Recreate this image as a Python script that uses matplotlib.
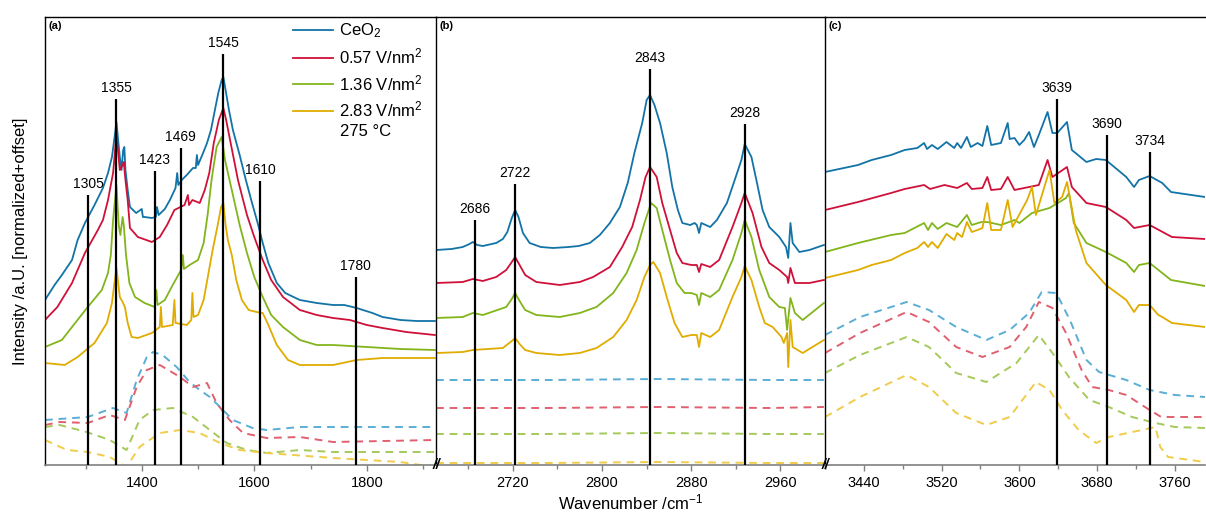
import numpy as np
import matplotlib
matplotlib.use('Agg')
import matplotlib.pyplot as plt
from matplotlib.ticker import MultipleLocator

plt.rcParams['font.family'] = ['Liberation Sans', 'DejaVu Sans']
plt.rcParams['mathtext.fontset'] = 'custom'
plt.rcParams['mathtext.rm'] = 'Liberation Sans'
plt.rcParams['mathtext.it'] = 'Liberation Sans:italic'
plt.rcParams['mathtext.bf'] = 'Liberation Sans:bold'

# ---- series names / colours ----
labels = ['CeO$_2$', '0.57 V/nm$^2$', '1.36 V/nm$^2$', '2.83 V/nm$^2$']
solid_colors = ['#1273a6', '#cf1139', '#82b51c', '#e0ac00']
dash_colors = ['#5aaed6', '#e0606f', '#a5c95a', '#f0cc4a']
temperature = '275 °C'

# ---- panel (a): 1228-1923 cm-1 ----
a_wn_blue = [1228, 1245, 1258, 1276, 1286, 1299, 1316, 1331, 1340, 1347, 1351, 1355, 1358, 1361, 1364, 1367,
             1369, 1371, 1375, 1379, 1390, 1400, 1402, 1405, 1418, 1425, 1427, 1430, 1441, 1450, 1460, 1463,
             1465, 1471, 1480, 1491, 1496, 1498, 1500, 1509, 1516, 1523, 1530, 1536, 1542, 1545, 1549, 1555,
             1562, 1574, 1585, 1596, 1606, 1615, 1625, 1640, 1655, 1681, 1711, 1740, 1760, 1782, 1810, 1828,
             1860, 1889, 1921]
a_blue = [165, 180, 190, 205, 225, 242, 260, 277, 292, 308, 325, 343, 325, 308, 295, 315,
          318, 295, 275, 258, 252, 256, 248, 248, 247, 248, 258, 250, 256, 265, 277, 292,
          280, 285, 290, 297, 297, 310, 300, 312, 322, 335, 355, 372, 385, 388, 375, 355,
          335, 310, 285, 262, 242, 222, 202, 182, 172, 165, 162, 160, 160, 157, 152, 148,
          145, 144, 144]
a_wn_red = [1228, 1250, 1276, 1299, 1322, 1331, 1340, 1349, 1355, 1361, 1366, 1368, 1371, 1375, 1379, 1393,
            1418, 1432, 1445, 1458, 1476, 1482, 1484, 1490, 1503, 1512, 1520, 1528, 1537, 1545, 1550, 1558,
            1571, 1587, 1600, 1615, 1630, 1651, 1681, 1711, 1740, 1770, 1800, 1828, 1870, 1921]
a_red = [145, 158, 182, 212, 235, 245, 265, 292, 330, 295, 300, 303, 285, 265, 237, 228,
         223, 228, 240, 255, 260, 270, 260, 265, 262, 275, 292, 322, 345, 357, 345, 322,
         285, 250, 228, 205, 185, 168, 155, 150, 147, 145, 140, 137, 133, 130]
a_wn_green = [1228, 1258, 1276, 1304, 1329, 1340, 1345, 1349, 1355, 1359, 1362, 1366, 1368, 1372, 1378, 1388,
              1405, 1423, 1426, 1428, 1441, 1455, 1470, 1473, 1475, 1485, 1500, 1510, 1517, 1524, 1533, 1542,
              1548, 1560, 1574, 1587, 1600, 1615, 1630, 1651, 1681, 1711, 1740, 1800, 1860, 1921]
a_green = [118, 125, 138, 158, 175, 192, 210, 245, 280, 240, 230, 248, 240, 210, 182, 168,
           162, 158, 175, 160, 165, 180, 195, 210, 196, 200, 205, 222, 250, 285, 318, 328,
           305, 275, 240, 212, 188, 168, 150, 138, 125, 120, 120, 118, 116, 115]
a_wn_yellow = [1228, 1245, 1263, 1286, 1316, 1338, 1347, 1351, 1355, 1361, 1366, 1370, 1375, 1382, 1393, 1418,
               1432, 1434, 1436, 1455, 1458, 1460, 1480, 1488, 1490, 1492, 1500, 1510, 1518, 1526, 1535, 1541,
               1545, 1549, 1553, 1560, 1568, 1578, 1590, 1604, 1615, 1625, 1640, 1660, 1681, 1740, 1782, 1828,
               1921]
a_yellow = [102, 101, 100, 108, 122, 142, 162, 180, 197, 168, 163, 158, 142, 128, 127, 132,
            138, 158, 138, 140, 165, 142, 140, 145, 172, 148, 150, 165, 190, 215, 240, 258,
            262, 240, 225, 210, 185, 165, 155, 153, 152, 140, 120, 105, 100, 100, 105, 107,
            107]

a_dwn_blue = [1228, 1304, 1349, 1373, 1391, 1409, 1420, 1437, 1462, 1485, 1503, 1521, 1539, 1562, 1597, 1622, 1681, 1921]
a_dblue = [45, 48, 57, 52, 85, 108, 113, 110, 98, 83, 75, 68, 58, 45, 37, 35, 38, 38]
a_dwn_red = [1228, 1254, 1304, 1343, 1370, 1391, 1409, 1432, 1468, 1491, 1516, 1533, 1556, 1580, 1622, 1681, 1740, 1921]
a_dred = [40, 43, 42, 50, 45, 78, 95, 100, 88, 78, 82, 62, 45, 32, 27, 28, 23, 25]
a_dwn_green = [1228, 1254, 1302, 1343, 1373, 1396, 1420, 1455, 1491, 1521, 1551, 1587, 1622, 1681, 1740, 1921]
a_dgreen = [38, 40, 33, 25, 15, 45, 55, 57, 48, 35, 22, 15, 12, 15, 13, 13]
a_dwn_yellow = [1228, 1267, 1304, 1343, 1373, 1396, 1432, 1468, 1503, 1539, 1574, 1622, 1740, 1859, 1921]
a_dyellow = [25, 15, 13, 8, -2, 18, 32, 35, 32, 22, 15, 12, 7, 3, -2]

# ---- panel (b): 2651-3000 cm-1 ----
b_wn_blue = [2651, 2665, 2675, 2681, 2684, 2688, 2693, 2705, 2711, 2715, 2719, 2722, 2725, 2729, 2735, 2745,
             2756, 2770, 2779, 2789, 2798, 2807, 2816, 2823, 2829, 2836, 2840, 2843, 2847, 2852, 2858, 2863,
             2868, 2872, 2879, 2883, 2885, 2887, 2889, 2897, 2903, 2912, 2919, 2925, 2928, 2934, 2939, 2944,
             2950, 2959, 2965, 2967, 2969, 2971, 2977, 2986, 2999]
b_blue = [215, 216, 218, 221, 223, 220, 219, 222, 226, 233, 247, 255, 248, 232, 222, 218,
          217, 218, 219, 222, 230, 242, 258, 282, 312, 342, 365, 370, 360, 342, 312, 278,
          255, 242, 240, 242, 240, 232, 242, 238, 245, 262, 285, 305, 321, 308, 282, 255,
          238, 228, 218, 207, 242, 222, 213, 215, 220]
b_wn_red = [2651, 2675, 2684, 2693, 2705, 2714, 2719, 2722, 2726, 2731, 2741, 2762, 2780, 2792, 2807, 2818,
            2827, 2834, 2839, 2843, 2849, 2854, 2861, 2867, 2872, 2880, 2885, 2887, 2889, 2897, 2905, 2917,
            2925, 2928, 2935, 2943, 2950, 2959, 2966, 2967, 2969, 2973, 2986, 2999]
b_red = [182, 183, 186, 184, 188, 195, 203, 208, 200, 190, 183, 180, 183, 188, 198, 218,
         238, 265, 288, 298, 288, 262, 235, 212, 202, 200, 200, 193, 201, 198, 205, 238,
         262, 272, 252, 218, 202, 195, 188, 182, 197, 182, 182, 185]
b_wn_green = [2651, 2675, 2684, 2693, 2714, 2719, 2722, 2726, 2731, 2741, 2762, 2780, 2795, 2810, 2822, 2831,
              2838, 2844, 2849, 2854, 2861, 2867, 2874, 2880, 2885, 2887, 2889, 2897, 2905, 2917, 2925, 2928,
              2934, 2941, 2950, 2959, 2964, 2966, 2969, 2973, 2980, 2999]
b_green = [147, 148, 152, 150, 158, 166, 172, 164, 155, 150, 148, 152, 158, 172, 192, 215,
           242, 262, 257, 235, 205, 182, 172, 172, 170, 160, 172, 168, 175, 205, 232, 245,
           228, 195, 168, 158, 157, 135, 167, 152, 145, 162]
b_wn_yellow = [2651, 2675, 2684, 2711, 2719, 2722, 2726, 2731, 2741, 2762, 2780, 2795, 2810, 2822, 2831, 2838,
               2843, 2846, 2852, 2858, 2865, 2872, 2880, 2885, 2887, 2889, 2897, 2905, 2917, 2925, 2928, 2934,
               2941, 2946, 2953, 2961, 2963, 2966, 2967, 2969, 2971, 2980, 2999]
b_yellow = [112, 113, 115, 117, 124, 127, 121, 115, 112, 110, 112, 117, 128, 145, 165, 188,
            200, 203, 192, 168, 142, 128, 130, 130, 118, 132, 128, 135, 168, 188, 199, 185,
            158, 142, 138, 128, 122, 132, 98, 145, 118, 112, 125]

b_dwn = [2651, 2750, 2850, 2950, 2999]
b_dblue = [85, 85, 86, 85, 85]
b_dred = [57, 57, 58, 57, 58]
b_dgreen = [31, 31, 32, 31, 31]
b_dyellow = [2, 2, 3, 2, 2]

# ---- panel (c): 3400-3791 cm-1 ----
c_wn_blue = [3400, 3434, 3448, 3468, 3482, 3495, 3502, 3505, 3510, 3516, 3525, 3533, 3536, 3540, 3546, 3550,
             3557, 3562, 3567, 3571, 3581, 3588, 3590, 3595, 3600, 3605, 3610, 3615, 3620, 3629, 3634, 3639,
             3649, 3654, 3669, 3679, 3689, 3710, 3718, 3723, 3734, 3747, 3756, 3791]
c_blue = [293, 300, 305, 310, 315, 317, 322, 316, 320, 316, 323, 317, 322, 317, 328, 318,
          322, 319, 339, 320, 322, 342, 326, 327, 320, 325, 333, 318, 330, 353, 332, 332,
          343, 315, 303, 306, 305, 288, 278, 285, 289, 282, 273, 268]
c_wn_red = [3400, 3434, 3468, 3482, 3502, 3508, 3523, 3536, 3546, 3551, 3562, 3567, 3571, 3581, 3588, 3595,
            3610, 3620, 3629, 3634, 3649, 3654, 3669, 3689, 3710, 3718, 3734, 3757, 3791]
c_red = [255, 263, 272, 276, 280, 276, 280, 277, 282, 276, 277, 288, 275, 276, 288, 275,
         278, 280, 305, 288, 298, 278, 262, 258, 245, 237, 240, 228, 226]
c_wn_green = [3400, 3434, 3468, 3482, 3502, 3506, 3510, 3516, 3525, 3536, 3546, 3551, 3561, 3567, 3581, 3595,
              3600, 3613, 3631, 3648, 3651, 3656, 3669, 3689, 3710, 3718, 3723, 3734, 3747, 3756, 3791]
c_green = [213, 222, 230, 232, 242, 235, 242, 236, 242, 238, 250, 240, 243, 243, 240, 245,
           242, 252, 257, 267, 272, 242, 222, 213, 202, 193, 200, 202, 192, 185, 179]
c_wn_yellow = [3400, 3434, 3448, 3468, 3482, 3495, 3502, 3506, 3510, 3516, 3525, 3533, 3536, 3541, 3546, 3551,
               3557, 3562, 3567, 3571, 3581, 3588, 3593, 3608, 3613, 3617, 3631, 3636, 3644, 3649, 3653, 3658,
               3669, 3689, 3710, 3718, 3723, 3734, 3743, 3747, 3757, 3791]
c_yellow = [187, 195, 200, 205, 212, 217, 223, 218, 223, 217, 231, 225, 232, 228, 243, 233,
            235, 237, 262, 235, 235, 265, 238, 265, 278, 250, 295, 262, 268, 283, 262, 235,
            202, 180, 165, 153, 160, 160, 150, 148, 142, 138]

c_dwn_blue = [3400, 3436, 3484, 3507, 3535, 3566, 3590, 3610, 3623, 3638, 3652, 3669, 3682, 3710, 3734, 3760, 3791]
c_dblue = [130, 148, 163, 155, 138, 125, 135, 152, 173, 172, 145, 105, 93, 85, 75, 70, 68]
c_dwn_red = [3400, 3436, 3484, 3507, 3535, 3562, 3590, 3607, 3620, 3634, 3648, 3664, 3675, 3692, 3710, 3734, 3746, 3791]
c_dred = [112, 132, 153, 143, 118, 108, 118, 138, 163, 157, 132, 95, 78, 75, 70, 55, 48, 48]
c_dwn_green = [3400, 3436, 3484, 3507, 3535, 3566, 3597, 3620, 3634, 3651, 3672, 3692, 3716, 3740, 3760, 3791]
c_dgreen = [92, 110, 128, 118, 92, 83, 102, 130, 112, 88, 65, 58, 48, 42, 38, 37]
c_dwn_yellow = [3400, 3436, 3484, 3507, 3535, 3566, 3590, 3617, 3631, 3644, 3661, 3679, 3692, 3726, 3740, 3745, 3753, 3791]
c_dyellow = [48, 68, 90, 78, 52, 40, 48, 83, 75, 55, 35, 22, 28, 35, 38, 18, 8, 3]

# ---- band markers (position, top of the marker line) ----
a_bands = [1305, 1355, 1423, 1469, 1545, 1610, 1780]
a_band_tops = [270, 366, 294, 317, 411, 284, 188]
b_bands = [2686, 2722, 2843, 2928]
b_band_tops = [245, 281, 396, 341]
c_bands = [3639, 3690, 3734]
c_band_tops = [366, 330, 313]

panels = [
    dict(name='(a)', xlim=(1228, 1923), major=200, minor=100,
         solid=[(a_wn_blue, a_blue), (a_wn_red, a_red), (a_wn_green, a_green), (a_wn_yellow, a_yellow)],
         dashed=[(a_dwn_blue, a_dblue), (a_dwn_red, a_dred), (a_dwn_green, a_dgreen), (a_dwn_yellow, a_dyellow)],
         bands=a_bands, tops=a_band_tops),
    dict(name='(b)', xlim=(2651, 3000), major=80, minor=40,
         solid=[(b_wn_blue, b_blue), (b_wn_red, b_red), (b_wn_green, b_green), (b_wn_yellow, b_yellow)],
         dashed=[(b_dwn, b_dblue), (b_dwn, b_dred), (b_dwn, b_dgreen), (b_dwn, b_dyellow)],
         bands=b_bands, tops=b_band_tops),
    dict(name='(c)', xlim=(3400, 3791), major=80, minor=40,
         solid=[(c_wn_blue, c_blue), (c_wn_red, c_red), (c_wn_green, c_green), (c_wn_yellow, c_yellow)],
         dashed=[(c_dwn_blue, c_dblue), (c_dwn_red, c_dred), (c_dwn_green, c_dgreen), (c_dwn_yellow, c_dyellow)],
         bands=c_bands, tops=c_band_tops),
]

W, H = 1206, 515
fig = plt.figure(figsize=(W / 100, H / 100), dpi=100)
edges = [45, 436, 825, 1205]
bottom, top = 465, 17

axes = []
for i, p in enumerate(panels):
    ax = fig.add_axes([edges[i] / W, 1 - bottom / H, (edges[i + 1] - edges[i]) / W, (bottom - top) / H])
    axes.append(ax)

    for (x, y), c in zip(p['dashed'], dash_colors):
        ax.plot(x, y, color=c, lw=1.4, linestyle=(0, (4, 3)), zorder=2)
    for (x, y), c, lab in zip(p['solid'], solid_colors, labels):
        ax.plot(x, y, color=c, lw=1.3, label=lab, zorder=2)

    ax.vlines(p['bands'], 0, p['tops'], color='black', lw=1.6, zorder=3)
    for b, t in zip(p['bands'], p['tops']):
        ax.annotate(str(b), (b, t), xytext=(0, 3), textcoords='offset points',
                    ha='center', va='bottom', fontsize=10)

    ax.set_xlim(*p['xlim'])
    ax.set_ylim(0, 448)
    ax.set_yticks([])
    ax.xaxis.set_major_locator(MultipleLocator(p['major']))
    ax.xaxis.set_minor_locator(MultipleLocator(p['minor']))
    ax.tick_params(axis='x', which='major', length=4, width=1, color='#808080', labelsize=10.5, pad=4)
    ax.tick_params(axis='x', which='minor', length=3, width=1, color='#808080')
    ax.spines['right'].set_visible(False)
    ax.spines['bottom'].set_color('#808080')
    ax.spines['bottom'].set_linewidth(1.2)
    ax.spines['left'].set_linewidth(1.0)
    ax.spines['top'].set_linewidth(1.0)
    ax.patch.set_alpha(0)

    ax.text(0.008, 0.992, p['name'], transform=ax.transAxes, ha='left', va='top',
            fontsize=8, fontweight='bold')

    # axis break marks at the panel boundaries
    if i > 0:
        ax.text(0, 0, '//', transform=ax.transAxes, ha='center', va='center',
                fontsize=10, style='italic', fontweight='bold', clip_on=False, zorder=5)

axes[0].set_ylabel('Intensity /a.U. [normalized+offset]', fontsize=12, labelpad=12)
axes[1].set_xlabel('Wavenumber /cm$^{-1}$', fontsize=12, labelpad=2)

leg = axes[0].legend(loc='upper left', bbox_to_anchor=(0.635, 0.99), frameon=False,
                     fontsize=12, handlelength=2.4, handletextpad=0.35, labelspacing=0.4,
                     borderpad=0, borderaxespad=0)
axes[0].text(0.755, 0.745, temperature, transform=axes[0].transAxes, fontsize=12,
             ha='left', va='center')

fig.savefig('out.png', dpi=100)
